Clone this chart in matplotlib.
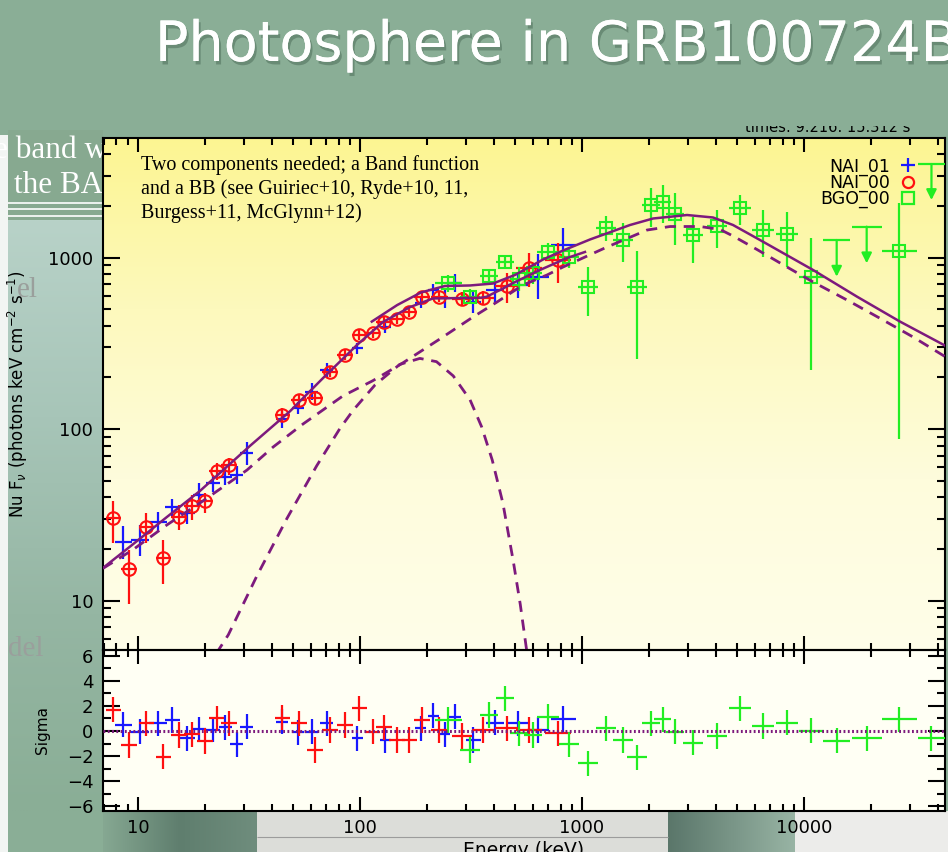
import numpy as np
import matplotlib
matplotlib.use("Agg")
import matplotlib.pyplot as plt
import matplotlib.patheffects as pe
from matplotlib.colors import to_rgb
from matplotlib.lines import Line2D
from matplotlib.patches import Rectangle
from matplotlib.ticker import LogLocator, FuncFormatter, NullFormatter, MultipleLocator

plt.rcParams['font.family'] = ['DejaVu Sans']

# ---- values: energy in keV, nuFnu in photons keV cm^-2 s^-1
# errors and half bin widths are given in dex

# NAI_01 (blue crosses)
nai01_energy = [8.6, 10.2, 12.3, 14.3, 16.6, 18.9, 21.8, 24.7, 27.8, 30.9, 44.4, 52.7, 60.5,
                70.7, 97.3, 130, 188, 214, 241, 268, 324, 405, 516, 636, 822]
nai01_flux = [21.8, 22.5, 28.8, 34.9, 32.5, 41.2, 48.2, 52.7, 53.9, 72.1, 114, 132, 165,
              221, 295, 395, 541, 646, 578, 707, 552, 646, 691, 774, 1183]
nai01_dflux = [0.095, 0.09, 0.058, 0.05, 0.063, 0.068, 0.05, 0.05, 0.05, 0.068, 0.05, 0.035, 0.05,
               0.04, 0.03, 0.035, 0.03, 0.035, 0.058, 0.053, 0.068, 0.068, 0.078, 0.13, 0.10]
nai01_dwidth = [0.037, 0.04, 0.04, 0.035, 0.035, 0.03, 0.03, 0.03, 0.03, 0.03, 0.028, 0.028, 0.028,
                0.028, 0.025, 0.025, 0.025, 0.025, 0.025, 0.028, 0.035, 0.04, 0.045, 0.05, 0.056]
nai01_sigma = [0.5, -0.05, 0.63, 0.88, -0.58, 0.15, 0.1, 0.28, -1.07, 0.34, 0.74, -0.1, -0.05,
               0.61, -0.58, -0.72, 0.2, 1.2, -0.25, 1.14, -0.72, 0.65, 0.6, 0.08, 0.96]

# NAI_00 (red circles)
nai00_energy = [7.74, 9.1, 10.9, 13.0, 15.3, 17.5, 20.0, 22.6, 25.7, 44.7, 53.1, 62.7, 73.3,
                85.5, 99.3, 114, 128, 147, 167, 190, 228, 287, 359, 458, 577, 780]
nai00_flux = [30.4, 15.2, 26.9, 17.6, 30.8, 35.6, 38.2, 57.2, 61.7, 121, 147, 151, 216,
              270, 353, 361, 422, 437, 483, 591, 586, 571, 578, 685, 865, 966]
nai00_flux_lo = [0.15, 0.20, 0.095, 0.15, 0.077, 0.082, 0.074, 0.054, 0.058, 0.04, 0.035, 0.04, 0.03,
                 0.03, 0.03, 0.025, 0.03, 0.03, 0.03, 0.03, 0.03, 0.04, 0.04, 0.10, 0.107, 0.135]
nai00_flux_hi = [0.10, 0.11, 0.078, 0.11, 0.068, 0.063, 0.043, 0.042, 0.039, 0.04, 0.035, 0.04, 0.03,
                 0.03, 0.03, 0.025, 0.03, 0.03, 0.03, 0.03, 0.03, 0.04, 0.04, 0.072, 0.087, 0.097]
nai00_dwidth = [0.035, 0.035, 0.035, 0.035, 0.035, 0.035, 0.035, 0.035, 0.035, 0.035, 0.035, 0.035, 0.035,
                0.035, 0.035, 0.035, 0.035, 0.035, 0.035, 0.035, 0.04, 0.045, 0.05, 0.055, 0.06, 0.06]
nai00_sigma = [1.7, -1.11, 0.61, -2.05, -0.32, -0.25, -0.8, 1.01, 0.61, 1.05, 0.61, -1.51, 0.08,
               0.48, 1.81, -0.05, 0.28, -0.72, -0.72, 0.88, 0.08, -0.4, 0.08, 0.21, 0.08, -0.19]

# BGO_00 (green squares)
bgo_energy = [250, 313, 382, 450, 522, 603, 705, 877, 1065, 1283, 1524, 1774, 2037, 2306, 2624,
              3175, 4060, 5150, 6560, 8360, 10770, 26880]
bgo_flux = [707, 591, 780, 937, 747, 809, 1081, 1003, 670, 1480, 1265, 670, 2023, 2115, 1795,
            1352, 1527, 1937, 1446, 1371, 767, 1096]
bgo_flux_lo = [0.05, 0.045, 0.035, 0.035, 0.07, 0.06, 0.05, 0.06, 0.17, 0.073, 0.127, 0.42, 0.127,
               0.124, 0.18, 0.165, 0.13, 0.097, 0.156, 0.19, 0.54, 1.10]
bgo_flux_hi = [0.05, 0.045, 0.035, 0.035, 0.07, 0.06, 0.05, 0.06, 0.12, 0.073, 0.10, 0.21, 0.10,
               0.097, 0.122, 0.107, 0.093, 0.078, 0.117, 0.13, 0.227, 0.276]
bgo_dwidth = [0.06, 0.045, 0.04, 0.04, 0.04, 0.04, 0.05, 0.045, 0.045, 0.045, 0.045, 0.045, 0.04,
              0.04, 0.04, 0.045, 0.045, 0.05, 0.05, 0.05, 0.056, 0.079]
bgo_sigma = [0.88, -1.51, 1.27, 2.6, -0.19, -0.32, 1.14, -1.05, -2.57, 0.21, -0.72, -2.1, 0.61,
             0.93, -0.05, -0.93, -0.4, 1.81, 0.4, 0.66, 0.02, 0.93]

# BGO_00 upper limits
bgo_ul_energy = [14030, 19150, 37500]
bgo_ul_top = [1265, 1513, 3508]
bgo_ul_tip = [773, 925, 2164]
bgo_ul_dwidth = [0.06, 0.068, 0.06]
bgo_ul_sigma = [-0.77, -0.58, -0.58]

# model curves (Band + BB)
model_nai_energy = [6.96, 9.5, 13.5, 19.0, 31.9, 48.4, 68.1, 96.9, 127, 168, 213, 273, 347, 371,
                    442, 489, 647, 856, 1031]
model_nai_flux = [15.5, 21.3, 30.7, 43.5, 79.6, 127, 198, 309, 421, 514, 577, 580, 582, 590,
                  661, 710, 846, 993, 1077]
model_bgo_energy = [113, 147, 188, 241, 313, 397, 499, 667, 821, 1087, 1645, 2088, 2972, 3892,
                    4788, 6537, 10978, 17330, 27060, 44530]
model_bgo_flux = [423, 528, 625, 682, 687, 705, 791, 973, 1098, 1274, 1547, 1688, 1769, 1711,
                  1547, 1236, 846, 591, 423, 300]
band_energy = [6.96, 9.5, 13.5, 19.0, 26.0, 31.0, 40.6, 55.4, 83.8, 114, 156, 229, 323, 414, 542,
               696, 821, 1296, 1963, 2491, 3401, 4183, 4788, 6141, 8382, 10978, 15620, 21990,
               30970, 44530]
band_flux = [15.4, 19.8, 27.6, 37.0, 49.1, 57.7, 78.5, 107, 156, 191, 243, 335, 450, 550, 691,
             791, 880, 1151, 1446, 1516, 1516, 1457, 1335, 1113, 880, 720, 565, 442, 344, 258]
bb_energy = [22.5, 25.5, 34.3, 46.8, 63.8, 81.3, 93.3, 117, 151, 186, 221, 263, 313, 353, 394,
             440, 490, 527, 571]
bb_flux = [4.9, 6.3, 13.9, 30.0, 61.0, 101, 129, 181, 238, 258, 247, 204, 148, 103, 66,
           37, 17, 9.5, 4.5]

BLUE = '#1818ff'
RED = '#ff1010'
GREEN = '#22ee22'
PURPLE = '#7d1a7d'
SLIDE = '#8aae96'

W, H = 948, 852
fig = plt.figure(figsize=(W / 100, H / 100), dpi=100)


def px_rect(x0, y0, x1, y1):
    # pixel box with top-left origin -> figure fraction
    return [x0 / W, 1 - y1 / H, (x1 - x0) / W, (y1 - y0) / H]


def log_err(vals, lo, hi):
    v = np.asarray(vals, float)
    return np.vstack([v * (1 - 10 ** -np.asarray(lo, float)), v * (10 ** np.asarray(hi, float) - 1)])


# background layer: slide and the pasted chart image
bg = fig.add_axes([0, 0, 1, 1])
bg.set_zorder(0)
bg.axis('off')


def gradient(x0, x1, y0, y1, colors, z, horizontal=False):
    c = np.array([to_rgb(k) for k in colors])
    t = np.linspace(0, 1, 200)
    stops = np.linspace(0, 1, len(c))
    g = np.stack([np.interp(t, stops, c[:, i]) for i in range(3)], axis=-1)
    img = g[None, :, :] if horizontal else g[:, None, :]
    bg.imshow(img, extent=(x0, x1, y1, y0), aspect='auto', interpolation='bilinear', zorder=z)


def box(x0, y0, x1, y1, color, z):
    bg.add_patch(Rectangle((x0, y0), x1 - x0, y1 - y0, color=color, lw=0, zorder=z))


box(0, 0, W, H, SLIDE, 0)
box(0, 135, 8, H, '#f2f5f3', 1)
box(8, 130, 103, 220, '#87a990', 1)
gradient(8, 103, 220, 811, ['#b8d2c8', '#a7c5b8', '#95b6a3', '#8aae96'], 1)
bg.hlines([203, 209, 216], 8, 103, color='white', lw=1.2, zorder=2)
gradient(103, 257, 811, H, ['#86a892', '#5f7e6e', '#6f8d7d'], 1, horizontal=True)
box(257, 811, 668, H, '#dcddd9', 1)
bg.hlines(837, 257, 668, color='#9c9c9c', lw=0.8, zorder=2)
gradient(668, 795, 811, H, ['#5a766a', '#98b4a4'], 1, horizontal=True)
box(795, 811, W, H, '#ececea', 1)

serif = ['Liberation Serif', 'DejaVu Serif']
bg.text(-6, 158, 'e band w', color='white', fontsize=22.5, family=serif, zorder=2)
bg.text(14, 193, 'the BA', color='white', fontsize=22.5, family=serif, zorder=2)
bg.text(17, 297, 'el', color='#9a9f9c', fontsize=21, family=serif, zorder=2)
bg.text(8, 656, 'del', color='#9a9f9c', fontsize=21, family=serif, zorder=2)

# chart panels
gradient(103, 945, 138, 650, ['#fcf592', '#fdf9bd', '#fefcdc', '#fffee9'], 3)
box(103, 650, 945, 811, '#fffff4', 3)

bg.text(745, 132, 'times: 9.216: 15.312 s', fontsize=10.5, color='black', zorder=4)
box(690, 95, W, 125.5, SLIDE, 5)

bg.text(155, 61, 'Photosphere in GRB100724B', color='white', fontsize=40, zorder=6,
        path_effects=[pe.withSimplePatchShadow(offset=(1.5, -2.5), shadow_rgbFace='#2d4a3a', alpha=0.35),
                      pe.Normal()])

bg.text(141, 155, 'Two components needed; a Band function\n'
                  'and a BB (see Guiriec+10, Ryde+10, 11,\n'
                  'Burgess+11, McGlynn+12)',
        va='top', ha='left', fontsize=14.5, family=serif, linespacing=1.3, zorder=4)

bg.set_xlim(0, W)
bg.set_ylim(H, 0)

# spectrum panel
ax = fig.add_axes(px_rect(103, 138, 945, 650))
axr = fig.add_axes(px_rect(103, 650, 945, 811), sharex=ax)
for a in (ax, axr):
    a.set_zorder(2)
    a.patch.set_visible(False)

ekw = dict(elinewidth=1.6, capsize=0, zorder=3)
ax.errorbar(nai01_energy, nai01_flux, xerr=log_err(nai01_energy, nai01_dwidth, nai01_dwidth),
            yerr=log_err(nai01_flux, nai01_dflux, nai01_dflux), fmt='none', ecolor=BLUE, **ekw)
ax.errorbar(nai00_energy, nai00_flux, xerr=log_err(nai00_energy, nai00_dwidth, nai00_dwidth),
            yerr=log_err(nai00_flux, nai00_flux_lo, nai00_flux_hi), fmt='o', mfc='none', mec=RED,
            ms=9, mew=1.5, ecolor=RED, **ekw)
ax.errorbar(bgo_energy, bgo_flux, xerr=log_err(bgo_energy, bgo_dwidth, bgo_dwidth),
            yerr=log_err(bgo_flux, bgo_flux_lo, bgo_flux_hi), fmt='s', mfc='none', mec=GREEN,
            ms=9, mew=1.5, ecolor=GREEN, **ekw)

ul_e = np.asarray(bgo_ul_energy, float)
ul_w = np.asarray(bgo_ul_dwidth, float)
ax.hlines(bgo_ul_top, ul_e * 10 ** -ul_w, ul_e * 10 ** ul_w, color=GREEN, lw=1.6, zorder=3)
for e, top, tip in zip(bgo_ul_energy, bgo_ul_top, bgo_ul_tip):
    ax.annotate('', xy=(e, tip), xytext=(e, top), zorder=3,
                arrowprops=dict(arrowstyle='-|>', color=GREEN, lw=1.6, shrinkA=0, shrinkB=0,
                                mutation_scale=15))

dash = (0, (4, 2.8))
ax.plot(model_nai_energy, model_nai_flux, color=PURPLE, lw=1.8, zorder=4)
ax.plot(model_bgo_energy, model_bgo_flux, color=PURPLE, lw=1.8, zorder=4)
ax.plot(band_energy, band_flux, color=PURPLE, lw=2, ls=dash, zorder=4)
ax.plot(bb_energy, bb_flux, color=PURPLE, lw=2, ls=dash, zorder=4)

handles = [Line2D([], [], color=BLUE, marker='+', ls='none', ms=10, mew=1.6),
           Line2D([], [], color=RED, marker='o', mfc='none', ls='none', ms=8, mew=1.6),
           Line2D([], [], color=GREEN, marker='s', mfc='none', ls='none', ms=9, mew=1.6)]
ax.legend(handles, ['NAI_01', 'NAI_00', 'BGO_00'], loc='upper right', bbox_to_anchor=(0.966, 0.962),
          frameon=False, markerfirst=False, fontsize=12.5, handlelength=1.0, handletextpad=0.5,
          labelspacing=-0.12, borderaxespad=0, borderpad=0)

# residual panel
axr.errorbar(nai01_energy, nai01_sigma, xerr=log_err(nai01_energy, nai01_dwidth, nai01_dwidth),
             yerr=1, fmt='none', ecolor=BLUE, **ekw)
axr.errorbar(nai00_energy, nai00_sigma, xerr=log_err(nai00_energy, nai00_dwidth, nai00_dwidth),
             yerr=1, fmt='none', ecolor=RED, **ekw)
axr.errorbar(bgo_energy, bgo_sigma, xerr=log_err(bgo_energy, bgo_dwidth, bgo_dwidth),
             yerr=1, fmt='none', ecolor=GREEN, **ekw)
axr.errorbar(bgo_ul_energy, bgo_ul_sigma, xerr=log_err(bgo_ul_energy, bgo_ul_dwidth, bgo_ul_dwidth),
             yerr=1, fmt='none', ecolor=GREEN, **ekw)
axr.axhline(0, color=PURPLE, lw=2.2, ls=(0, (0.6, 0.8)), zorder=4)

# axes styling
ax.set_xscale('log')
ax.set_yscale('log')
ax.set_xlim(6.955, 43150)
ax.set_ylim(5.145, 4975)
axr.set_ylim(-6.37, 6.45)

log_fmt = FuncFormatter(lambda v, p: f"{v:.0f}")
ax.yaxis.set_major_locator(LogLocator(base=10, numticks=10))
ax.yaxis.set_minor_locator(LogLocator(base=10, subs=np.arange(2, 10), numticks=30))
ax.yaxis.set_major_formatter(log_fmt)
ax.yaxis.set_minor_formatter(NullFormatter())
axr.xaxis.set_major_locator(LogLocator(base=10, numticks=10))
axr.xaxis.set_minor_locator(LogLocator(base=10, subs=np.arange(2, 10), numticks=30))
axr.xaxis.set_major_formatter(log_fmt)
axr.xaxis.set_minor_formatter(NullFormatter())
axr.yaxis.set_major_locator(MultipleLocator(2))
axr.yaxis.set_minor_locator(MultipleLocator(1))

for a in (ax, axr):
    a.tick_params(which='both', direction='in', top=True, right=True, width=1.5, labelsize=13)
    a.tick_params(axis='x', which='major', length=10, pad=6)
    a.tick_params(axis='x', which='minor', length=5)
    a.tick_params(axis='y', which='major', length=12, pad=7)
    a.tick_params(axis='y', which='minor', length=6)
    for s in a.spines.values():
        s.set_linewidth(1.5)
ax.tick_params(labelbottom=False)

ax.set_ylabel(r'Nu F$_{\nu}$ (photons keV cm$^{-2}$ s$^{-1}$)', fontsize=12)
ax.yaxis.set_label_coords(-0.087, 0.5)
axr.set_ylabel('Sigma', fontsize=11)
axr.yaxis.set_label_coords(-0.063, 0.5)
axr.set_xlabel('Energy (keV)', fontsize=13.5, labelpad=3)

fig.savefig('out.png', dpi=100)
